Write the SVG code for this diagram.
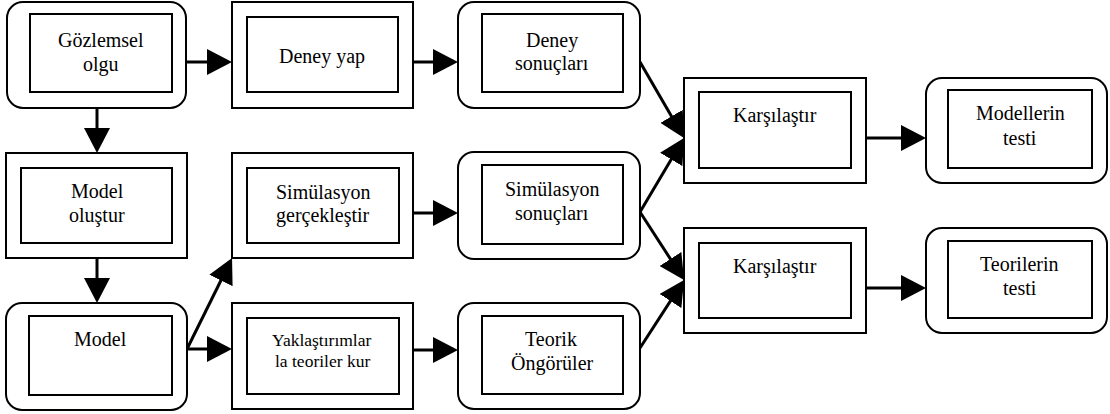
<svg xmlns="http://www.w3.org/2000/svg" width="1110" height="414" viewBox="0 0 1110 414">
<defs>
<marker id="ah" markerUnits="userSpaceOnUse" markerWidth="26" markerHeight="26" refX="15" refY="13" orient="auto">
<path d="M0,0 L25,13 L0,26 z" fill="#000" stroke="none"/>
</marker>
</defs>
<rect width="1110" height="414" fill="#fff"/>
<g id="connectors" fill="none" stroke="#000" stroke-width="3" marker-end="url(#ah)">
<path d="M186,62 L222,62"/>
<path d="M413,62 L448,62"/>
<path d="M97,108 L97,143"/>
<path d="M97,258 L97,293"/>
<path d="M187,349 L222,349"/>
<path d="M187,349 L227.6,267"/>
<path d="M413,213 L448,213"/>
<path d="M413,350 L448,350"/>
<path d="M640,62 L679,129.3"/>
<path d="M640,212 L678.9,146.6"/>
<path d="M640,212 L678.6,271.6"/>
<path d="M640,348 L678.6,288.4"/>
<path d="M866,138 L916,138"/>
<path d="M866,288 L916,288"/>
</g>
<g id="gozlemsel">
<rect x="7" y="2" width="179" height="106" rx="16" fill="#fff" stroke="#000" stroke-width="2"/>
<rect x="30" y="14" width="142" height="78" fill="#fff" stroke="#000" stroke-width="2"/>
<text x="58" y="47" font-family="Liberation Serif, serif" font-size="20">Gözlemsel</text>
<text x="83" y="71" font-family="Liberation Serif, serif" font-size="20">olgu</text>
</g>
<g id="deney-yap">
<rect x="232" y="2" width="181" height="106" fill="#fff" stroke="#000" stroke-width="2"/>
<rect x="247" y="17" width="151" height="75" fill="#fff" stroke="#000" stroke-width="2"/>
<text x="279" y="63" font-family="Liberation Serif, serif" font-size="20">Deney yap</text>
</g>
<g id="deney-sonuclari">
<rect x="458" y="2" width="182" height="106" rx="16" fill="#fff" stroke="#000" stroke-width="2"/>
<rect x="482" y="14" width="141" height="78" fill="#fff" stroke="#000" stroke-width="2"/>
<text x="526" y="47" font-family="Liberation Serif, serif" font-size="20">Deney</text>
<text x="515" y="70" font-family="Liberation Serif, serif" font-size="20">sonuçları</text>
</g>
<g id="model-olustur">
<rect x="6" y="153" width="181" height="105" fill="#fff" stroke="#000" stroke-width="2"/>
<rect x="21" y="168" width="151" height="75" fill="#fff" stroke="#000" stroke-width="2"/>
<text x="71" y="198" font-family="Liberation Serif, serif" font-size="20">Model</text>
<text x="69" y="222" font-family="Liberation Serif, serif" font-size="20">oluştur</text>
</g>
<g id="model">
<rect x="6" y="303" width="181" height="107" rx="16" fill="#fff" stroke="#000" stroke-width="2"/>
<rect x="29" y="316" width="143" height="79" fill="#fff" stroke="#000" stroke-width="2"/>
<text x="74" y="346" font-family="Liberation Serif, serif" font-size="20">Model</text>
</g>
<g id="simulasyon-gerceklestir">
<rect x="232" y="153" width="181" height="105" fill="#fff" stroke="#000" stroke-width="2"/>
<rect x="247" y="168" width="152" height="75" fill="#fff" stroke="#000" stroke-width="2"/>
<text x="276" y="199" font-family="Liberation Serif, serif" font-size="20">Simülasyon</text>
<text x="276" y="222" font-family="Liberation Serif, serif" font-size="20">gerçekleştir</text>
</g>
<g id="yaklastirimlar">
<rect x="232" y="303" width="181" height="106" fill="#fff" stroke="#000" stroke-width="2"/>
<rect x="247" y="318" width="152" height="76" fill="#fff" stroke="#000" stroke-width="2"/>
<text x="272" y="346" font-family="Liberation Serif, serif" font-size="17.5">Yaklaştırımlar</text>
<text x="275" y="367" font-family="Liberation Serif, serif" font-size="17.5">la teoriler kur</text>
</g>
<g id="simulasyon-sonuclari">
<rect x="458" y="152" width="182" height="107" rx="16" fill="#fff" stroke="#000" stroke-width="2"/>
<rect x="482" y="165" width="141" height="79" fill="#fff" stroke="#000" stroke-width="2"/>
<text x="505" y="196" font-family="Liberation Serif, serif" font-size="20">Simülasyon</text>
<text x="515" y="220" font-family="Liberation Serif, serif" font-size="20">sonuçları</text>
</g>
<g id="teorik-ongoruler">
<rect x="458" y="303" width="182" height="106" rx="16" fill="#fff" stroke="#000" stroke-width="2"/>
<rect x="482" y="316" width="141" height="78" fill="#fff" stroke="#000" stroke-width="2"/>
<text x="525" y="346" font-family="Liberation Serif, serif" font-size="20">Teorik</text>
<text x="511" y="370" font-family="Liberation Serif, serif" font-size="20">Öngörüler</text>
</g>
<g id="karsilastir-1">
<rect x="684" y="78" width="182" height="105" fill="#fff" stroke="#000" stroke-width="2"/>
<rect x="699" y="92" width="152" height="76" fill="#fff" stroke="#000" stroke-width="2"/>
<text x="733" y="122" font-family="Liberation Serif, serif" font-size="20">Karşılaştır</text>
</g>
<g id="karsilastir-2">
<rect x="684" y="228" width="182" height="105" fill="#fff" stroke="#000" stroke-width="2"/>
<rect x="699" y="243" width="152" height="75" fill="#fff" stroke="#000" stroke-width="2"/>
<text x="733" y="273" font-family="Liberation Serif, serif" font-size="20">Karşılaştır</text>
</g>
<g id="modellerin-testi">
<rect x="926" y="78" width="181" height="105" rx="16" fill="#fff" stroke="#000" stroke-width="2"/>
<rect x="948" y="90" width="144" height="78" fill="#fff" stroke="#000" stroke-width="2"/>
<text x="976" y="120" font-family="Liberation Serif, serif" font-size="20">Modellerin</text>
<text x="1003" y="145" font-family="Liberation Serif, serif" font-size="20">testi</text>
</g>
<g id="teorilerin-testi">
<rect x="926" y="228" width="181" height="105" rx="16" fill="#fff" stroke="#000" stroke-width="2"/>
<rect x="948" y="241" width="144" height="77" fill="#fff" stroke="#000" stroke-width="2"/>
<text x="980" y="271" font-family="Liberation Serif, serif" font-size="20">Teorilerin</text>
<text x="1003" y="295" font-family="Liberation Serif, serif" font-size="20">testi</text>
</g>
</svg>
